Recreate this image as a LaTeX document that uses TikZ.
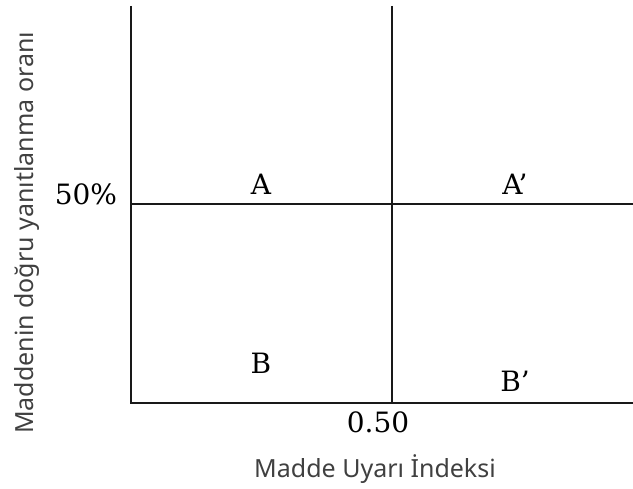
\documentclass[tikz,border=0pt]{standalone}
\usepackage{fontspec}
\setmainfont{DejaVu Serif}
\newfontfamily\labfont{Noto Sans}
\begin{document}
\begin{tikzpicture}[x=1pt,y=-1pt,
  axisline/.style={line width=1.6pt,black!90},
  quad/.style={font=\fontsize{28}{30}\selectfont,inner sep=0pt,anchor=base,text=black},
  axlab/.style={font=\labfont\fontsize{25}{28}\selectfont,inner sep=0pt,anchor=base,text=black!75}]
\useasboundingbox (0,0) rectangle (633,489);
\coordinate (tl) at (131,6);
\coordinate (bl) at (131,403);
\coordinate (br) at (633,403);
\coordinate (mt) at (392,6);
\coordinate (mb) at (392,403);
\coordinate (ml) at (131,204);
\coordinate (mr) at (633,204);
\draw[axisline] (tl) -- (bl) -- (br);
\draw[axisline] (mt) -- (mb);
\draw[axisline] (ml) -- (mr);
\node[quad] (A) at (261,195) {A};
\node[quad] (Ap) at (515,195) {A’};
\node[quad] (B) at (261,374) {B};
\node[quad] (Bp) at (515,392) {B’};
\node[quad] (p50) at (86,205) {50\%};
\node[quad] (x50) at (378,433) {0.50};
\node[axlab] (xl) at (375,478) {Madde Uyarı İndeksi};
\node[axlab,rotate=90] (yl) at (34,233) {Maddenin doğru yanıtlanma oranı};
\end{tikzpicture}
\end{document}
